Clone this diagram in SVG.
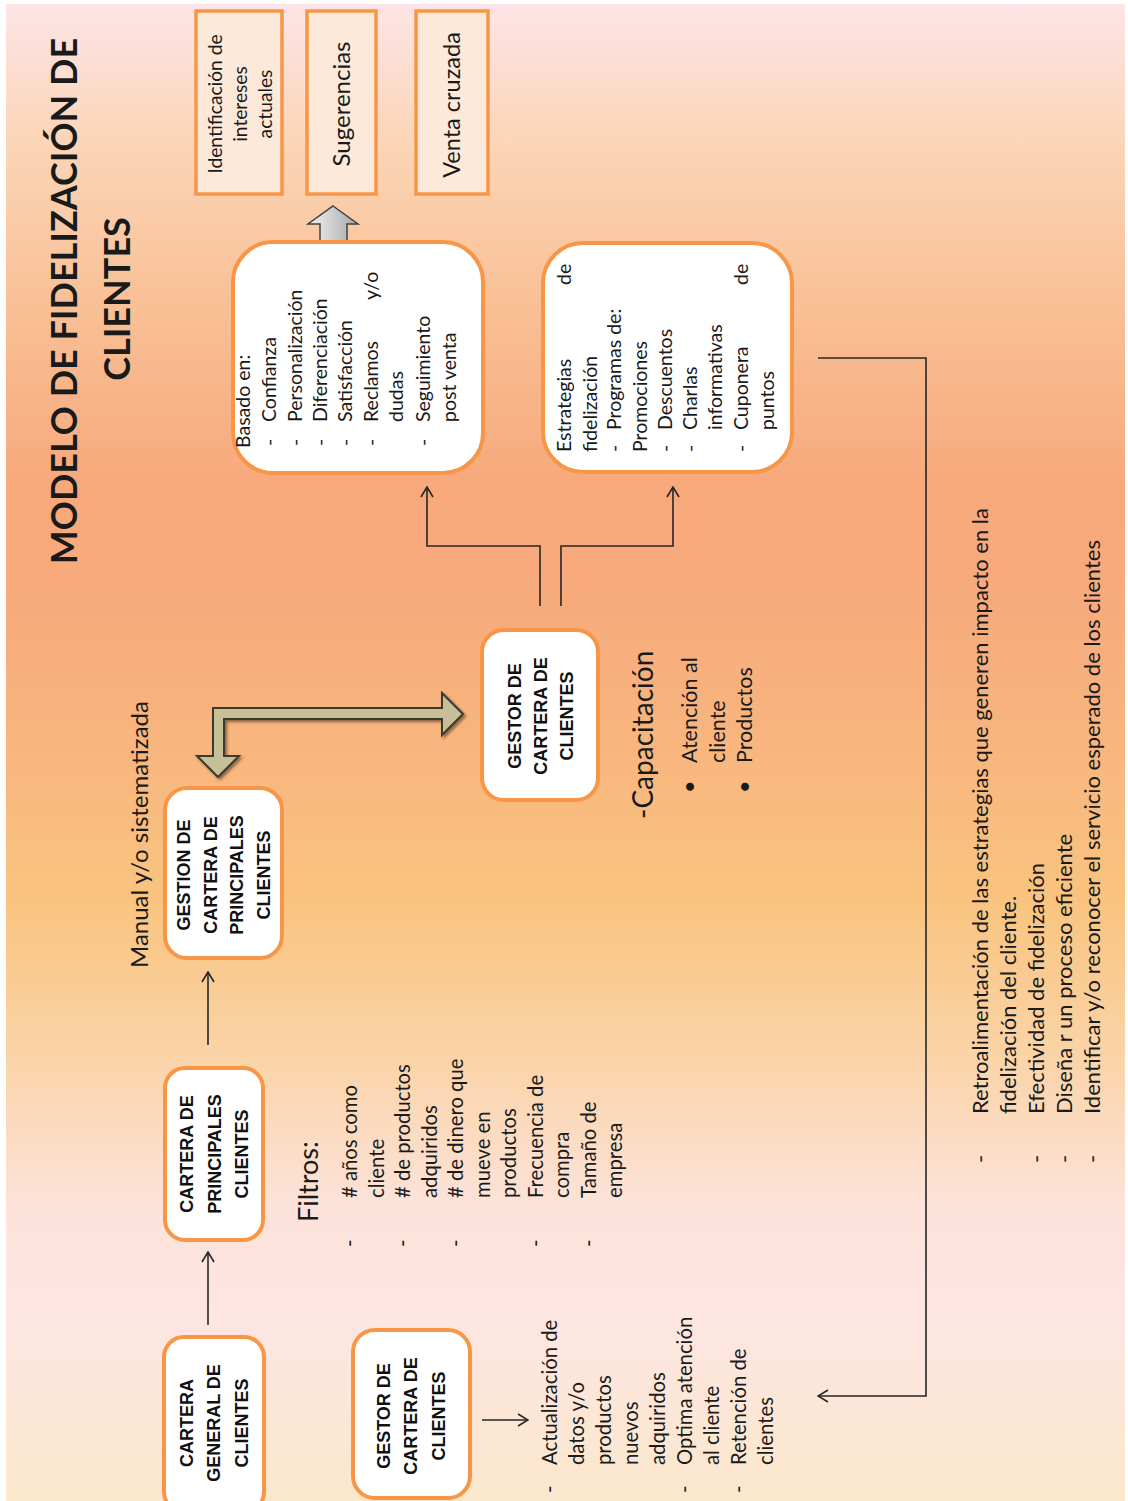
<svg xmlns="http://www.w3.org/2000/svg" width="1128" height="1501" viewBox="0 0 1128 1501">
<defs>
<linearGradient id="bg" x1="0" y1="0" x2="0" y2="1">
<stop offset="0" stop-color="#fde4e6"/>
<stop offset="0.1" stop-color="#fbd4b4"/>
<stop offset="0.2" stop-color="#f9c096"/>
<stop offset="0.32" stop-color="#f7a97c"/>
<stop offset="0.4" stop-color="#f7aa7c"/>
<stop offset="0.5" stop-color="#f8b67e"/>
<stop offset="0.6" stop-color="#f9c47f"/>
<stop offset="0.7" stop-color="#fad3a6"/>
<stop offset="0.8" stop-color="#fce2d8"/>
<stop offset="0.87" stop-color="#fde5e3"/>
<stop offset="1" stop-color="#fbe8cc"/>
</linearGradient>
<linearGradient id="gray" x1="0" y1="0" x2="1" y2="0">
<stop offset="0" stop-color="#f2f2f2"/>
<stop offset="1" stop-color="#a8a8a8"/>
</linearGradient>
<filter id="sh" x="-10%" y="-10%" width="130%" height="130%">
<feDropShadow dx="2" dy="2" stdDeviation="1.5" flood-color="#000" flood-opacity="0.45"/>
</filter>
<marker id="ah" viewBox="0 0 12 14" refX="11" refY="7" markerWidth="12" markerHeight="14" markerUnits="userSpaceOnUse" orient="auto">
<path d="M1,1 L11,7 L1,13" fill="none" stroke="#262626" stroke-width="1.6"/>
</marker>
<style>
.t{font-family:Lato,"Liberation Sans",sans-serif;fill:#1a1a1a}
.b{font-family:"Liberation Sans",Arial,sans-serif;font-weight:bold;font-size:18px;text-anchor:middle;fill:#111}
.box{fill:#fff;stroke:#f79646;stroke-width:4}
.sq{fill:#fde9d9;stroke:#f79646;stroke-width:3.5}
.ln{fill:none;stroke:#262626;stroke-width:1.6}
.f18{font-size:19.2px}
.f195{font-size:19.5px}
.f20{font-size:20.3px}
.f22{font-size:22px}
</style>
</defs>
<rect x="0" y="0" width="1128" height="1501" fill="#fff"/>
<rect x="6" y="4" width="1119" height="1497" fill="url(#bg)"/>

<g id="title">
<g transform="rotate(-90)">
<text class="t" x="-301" y="77" font-size="36" font-weight="bold" text-anchor="middle">MODELO DE FIDELIZACIÓN DE</text>
<text class="t" x="-299" y="130" font-size="36" font-weight="bold" text-anchor="middle">CLIENTES</text>
</g>
</g>

<g id="connectors">
<polygon points="463,714 442,693 442,708 213,708 213,756 197,756 218,777 239,756 224,756 224,719 442,719 442,735" fill="#c6bf98" stroke="#3a3a2a" stroke-width="2" stroke-linejoin="miter" filter="url(#sh)"/>
<polygon points="333,206 358,224 347,224 347,242 320,242 320,224 308,224" fill="url(#gray)" stroke="#404040" stroke-width="1.5"/>
<line class="ln" x1="208" y1="1325" x2="208" y2="1252" marker-end="url(#ah)"/>
<line class="ln" x1="208" y1="1045" x2="208" y2="972" marker-end="url(#ah)"/>
<path class="ln" d="M540,606 V546 H427 V487" marker-end="url(#ah)"/>
<path class="ln" d="M561,606 V546 H673 V487" marker-end="url(#ah)"/>
<line class="ln" x1="482" y1="1420" x2="528" y2="1420" marker-end="url(#ah)"/>
<path class="ln" d="M818,358 H926 V1396 H818" marker-end="url(#ah)"/>
</g>

<g id="box-identificacion">
<rect class="sq" x="196" y="11" width="86" height="183"/>
<g transform="rotate(-90)">
<text class="t f18" text-anchor="middle"><tspan x="-104" y="222">Identificación de</tspan><tspan x="-104" y="247">intereses</tspan><tspan x="-104" y="272">actuales</tspan></text>
</g>
</g>

<g id="box-sugerencias">
<rect class="sq" x="307" y="11" width="69" height="183"/>
<g transform="rotate(-90)">
<text class="t" font-size="24" text-anchor="middle" x="-104" y="350">Sugerencias</text>
</g>
</g>

<g id="box-venta">
<rect class="sq" x="416" y="11" width="72" height="183"/>
<g transform="rotate(-90)">
<text class="t" font-size="23.5" text-anchor="middle" x="-105" y="460">Venta cruzada</text>
</g>
</g>

<g id="box-basado">
<rect class="box" x="233" y="242" width="250" height="231" rx="40"/>
<g transform="rotate(-90)" class="t f195">
<text x="-448" y="250">Basado en:</text>
<text x="-446" y="276">-</text><text x="-422" y="276">Confianza</text>
<text x="-446" y="302">-</text><text x="-422" y="302">Personalización</text>
<text x="-446" y="327">-</text><text x="-422" y="327">Diferenciación</text>
<text x="-446" y="352">-</text><text x="-422" y="352">Satisfacción</text>
<text x="-446" y="378">-</text><text x="-422" y="378">Reclamos</text><text x="-300" y="378">y/o</text>
<text x="-422" y="403">dudas</text>
<text x="-446" y="430">-</text><text x="-422" y="430">Seguimiento</text>
<text x="-422" y="456">post venta</text>
</g>
</g>

<g id="box-estrategias">
<rect class="box" x="543" y="243" width="249" height="229" rx="40"/>
<g transform="rotate(-90)" class="t f195">
<text x="-452" y="571">Estrategias</text><text x="-285" y="571">de</text>
<text x="-452" y="597">fidelización</text>
<text x="-452" y="621">-</text><text x="-430" y="621">Programas de:</text>
<text x="-452" y="647">Promociones</text>
<text x="-452" y="672">-</text><text x="-430" y="672">Descuentos</text>
<text x="-452" y="697">-</text><text x="-430" y="697">Charlas</text>
<text x="-430" y="722">informativas</text>
<text x="-452" y="748">-</text><text x="-430" y="748">Cuponera</text><text x="-285" y="748">de</text>
<text x="-430" y="774">puntos</text>
</g>
</g>

<g id="label-manual">
<g transform="rotate(-90)">
<text class="t" font-size="24" x="-968" y="148">Manual y/o sistematizada</text>
</g>
</g>

<g id="node-gestor-mid">
<rect class="box" x="482" y="630" width="116" height="170" rx="22"/>
<g transform="rotate(-90)">
<text class="b" font-size="17"><tspan x="-716" y="521">GESTOR DE</tspan><tspan x="-716" y="547">CARTERA  DE</tspan><tspan x="-716" y="573">CLIENTES</tspan></text>
</g>
</g>

<g id="capacitacion">
<g transform="rotate(-90)" class="t">
<text font-size="28" x="-819" y="653">-Capacitación</text>
<text font-size="21.5" x="-793" y="697">•</text><text font-size="21.5" x="-763" y="697">Atención al</text>
<text font-size="21.5" x="-763" y="725">cliente</text>
<text font-size="21.5" x="-793" y="752">•</text><text font-size="21.5" x="-763" y="752">Productos</text>
</g>
</g>

<g id="node-gestion-principales">
<rect class="box" x="165" y="788" width="117" height="170" rx="22"/>
<g transform="rotate(-90)">
<text class="b"><tspan x="-875" y="190">GESTION DE</tspan><tspan x="-875" y="217">CARTERA  DE</tspan><tspan x="-875" y="243">PRINCIPALES</tspan><tspan x="-875" y="270">CLIENTES</tspan></text>
</g>
</g>

<g id="node-cartera-principales">
<rect class="box" x="165" y="1068" width="98" height="172" rx="20"/>
<g transform="rotate(-90)">
<text class="b"><tspan x="-1154" y="193">CARTERA DE</tspan><tspan x="-1154" y="221">PRINCIPALES</tspan><tspan x="-1154" y="248">CLIENTES</tspan></text>
</g>
</g>

<g id="filtros">
<g transform="rotate(-90)" class="t">
<text font-size="27" x="-1222" y="318">Filtros:</text>
<g class="f20">
<text x="-1247" y="357">-</text><text x="-1198" y="357"># años como</text>
<text x="-1198" y="383.5">cliente</text>
<text x="-1247" y="410">-</text><text x="-1198" y="410"># de productos</text>
<text x="-1198" y="436.5">adquiridos</text>
<text x="-1247" y="463">-</text><text x="-1198" y="463"># de dinero que</text>
<text x="-1198" y="489.5">mueve en</text>
<text x="-1198" y="516">productos</text>
<text x="-1247" y="542.5">-</text><text x="-1198" y="542.5">Frecuencia de</text>
<text x="-1198" y="569">compra</text>
<text x="-1247" y="595.5">-</text><text x="-1198" y="595.5">Tamaño de</text>
<text x="-1198" y="622">empresa</text>
</g>
</g>
</g>

<g id="node-cartera-general">
<rect class="box" x="164" y="1337" width="100" height="175" rx="20"/>
<g transform="rotate(-90)">
<text class="b"><tspan x="-1423" y="193">CARTERA</tspan><tspan x="-1423" y="220">GENERAL DE</tspan><tspan x="-1423" y="248">CLIENTES</tspan></text>
</g>
</g>

<g id="node-gestor-bottom">
<rect class="box" x="353" y="1330" width="117" height="168" rx="22"/>
<g transform="rotate(-90)">
<text class="b"><tspan x="-1416" y="390">GESTOR DE</tspan><tspan x="-1416" y="417">CARTERA DE</tspan><tspan x="-1416" y="445">CLIENTES</tspan></text>
</g>
</g>

<g id="gestor-tareas">
<g transform="rotate(-90)" class="t f20">
<text x="-1493" y="557">-</text><text x="-1465" y="557">Actualización de</text>
<text x="-1465" y="584">datos y/o</text>
<text x="-1465" y="611">productos</text>
<text x="-1465" y="638">nuevos</text>
<text x="-1465" y="665">adquiridos</text>
<text x="-1493" y="692">-</text><text x="-1465" y="692">Optima atención</text>
<text x="-1465" y="719">al cliente</text>
<text x="-1493" y="746">-</text><text x="-1465" y="746">Retención de</text>
<text x="-1465" y="773">clientes</text>
</g>
</g>

<g id="retroalimentacion">
<g transform="rotate(-90)" class="t f22">
<text x="-1163" y="988">-</text><text x="-1114" y="988">Retroalimentación de las  estrategias  que generen impacto en la</text>
<text x="-1114" y="1016">fidelización del cliente.</text>
<text x="-1163" y="1044">-</text><text x="-1114" y="1044">Efectividad de fidelización</text>
<text x="-1163" y="1072">-</text><text x="-1114" y="1072">Diseña r un proceso eficiente</text>
<text x="-1163" y="1100">-</text><text x="-1114" y="1100">Identificar y/o reconocer el servicio esperado de los clientes</text>
</g>
</g>
</svg>
